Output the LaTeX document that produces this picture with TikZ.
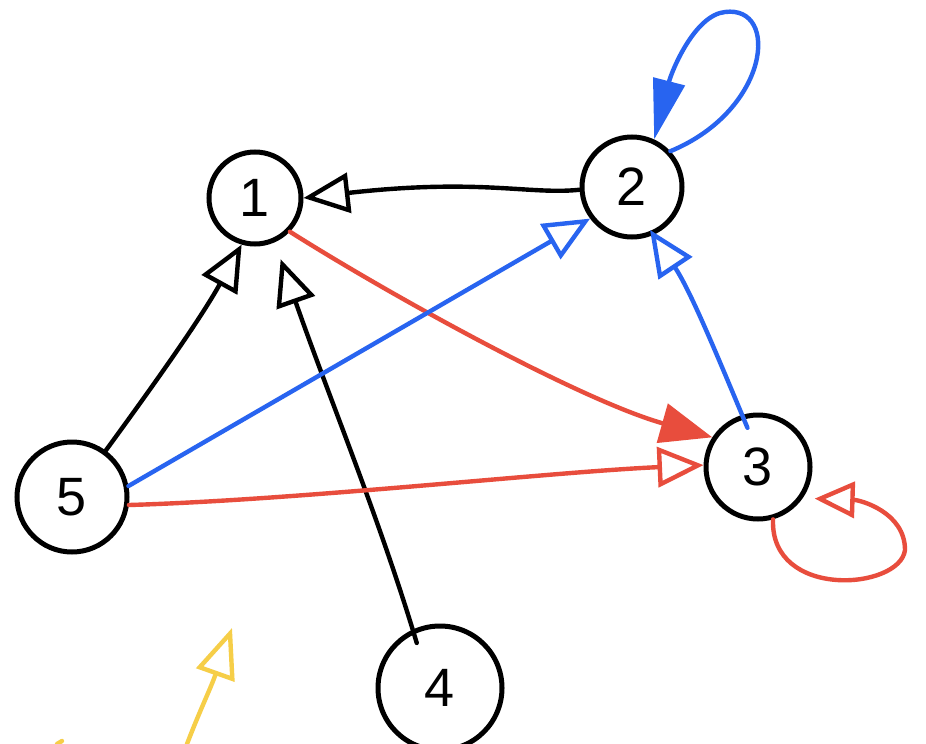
\documentclass[tikz,border=0pt]{standalone}
\usepackage{fontspec}
\setmainfont{Liberation Sans}
\usetikzlibrary{arrows.meta}
\definecolor{gblue}{RGB}{40,100,240}
\definecolor{gred}{RGB}{232,77,61}
\definecolor{gyellow}{RGB}{246,206,72}
\begin{document}
\begin{tikzpicture}[x=1pt,y=-1pt,
  vert/.style={circle, draw=black, line width=5pt, inner sep=0pt, minimum size=#1,
    font=\fontsize{54}{54}\selectfont},
  conn/.style={line width=4.4pt, line cap=round, line join=round},
  opentip/.style={-{Triangle[open,length=46pt,width=40pt,line width=4.4pt]}},
  filltip/.style={-{Triangle[length=#1,width=40pt]}}
]
\useasboundingbox (0,0) rectangle (926,744);
\fill[white] (0,0) rectangle (926,744);

\node[vert=92pt]  (n1) at (255,198) {1};
\node[vert=100pt] (n2) at (632,187) {2};
\node[vert=104pt] (n3) at (758,467) {3};
\node[vert=110pt] (n5) at (72,497)  {5};
\node[vert=124pt] (n4) at (440,688) {4};

% black edges into 1
\draw[conn, black, opentip] (n2.183) .. controls (530,195) and (480,178) .. (n1.east);
\draw[conn, black, opentip] (n5.54) .. controls (150,390) and (200,320) .. (n1.254);
\draw[conn, black, opentip, shorten >=18pt, shorten <=-14pt] (n4.115) .. controls (380,520) and (330,400) .. (n1.294);

% red edges
\draw[conn, gred, filltip=52pt] (n1.316) .. controls (390,295) and (580,400) .. (n3.147);
\draw[conn, gred, opentip] (n5.352) .. controls (300,500) and (550,472) .. (n3.178);
\draw[conn, gred, -{Triangle[open,length=40pt,width=36pt,line width=4.4pt]}, shorten >=12pt] (n3.286) .. controls (770,600) and (900,590) .. (905,550) .. controls (905,512) and (860,500) .. (n3.325);

% blue edges
\draw[conn, gblue, opentip] (n5.11) -- (n2.217);
\draw[conn, gblue, opentip, shorten <=-14pt, shorten >=-6pt] (n3.107) .. controls (715,350) and (690,290) .. (n2.294);
\draw[conn, gblue, -{Triangle[length=60pt,width=32pt]}] (n2.43) .. controls (770,110) and (780,5) .. (725,12) .. controls (695,15) and (672,70) .. (n2.65);

% yellow stroke
\coordinate (ya) at (187,744);
\coordinate (yb) at (232,628);
\draw[conn, gyellow, -{Triangle[open,length=50pt,width=40pt,line width=4.4pt]}] (ya) .. controls (200,710) and (210,690) .. (yb);
\coordinate (yc) at (57,744);
\coordinate (yd) at (62,741);
\draw[conn, gyellow] (yc) -- (yd);
\end{tikzpicture}
\end{document}
